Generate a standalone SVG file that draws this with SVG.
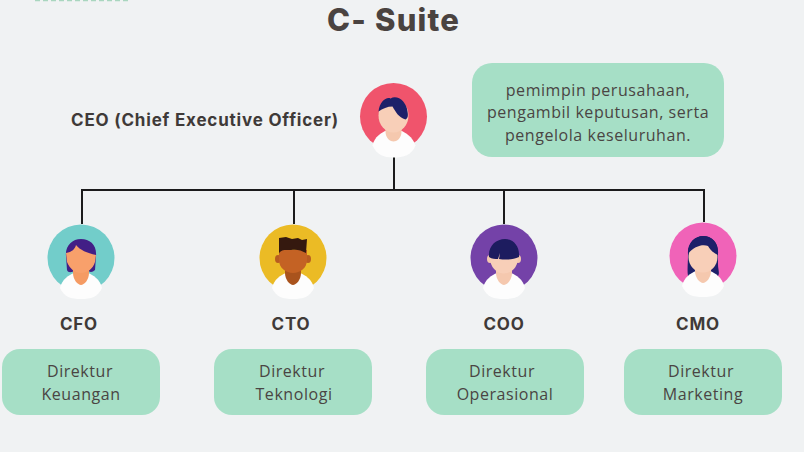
<svg xmlns="http://www.w3.org/2000/svg" width="804" height="452" viewBox="0 0 804 452">
<style>
.title{font:800 31px "Inter","Liberation Sans",sans-serif;fill:#4a4340;letter-spacing:1.2px}
.role{font:700 17px "Inter","Liberation Sans",sans-serif;fill:#3f3a38;text-anchor:middle;letter-spacing:.8px}
.body{font:400 16px "Open Sans","Liberation Sans",sans-serif;fill:#4a4543;text-anchor:middle;letter-spacing:.55px}
.box{fill:#a6dfc6}
.wire{stroke:#1b1b1b;stroke-width:2;fill:none}
.shirt{fill:#fdfdfd}
</style>
<rect width="804" height="452" fill="#f0f2f3"/>
<path d="M35 .5H130" stroke="#a9d6bf" stroke-width="1.500" stroke-dasharray="5 3" fill="none"/>
<text class="title" x="393.500" y="31" text-anchor="middle">C- Suite</text>

<g id="connectors">
<path class="wire" d="M394 157V190M81 190H705M82 190V224M294 190V224M504 190V224M704 190V222"/>
</g>

<g id="ceo" transform="translate(393.5 116.500)">
<circle r="33.500" fill="#f0546c"/>
<path class="shirt" d="M-21 29C-19 20-12 16-7 14H7C12 16 19 20 22 29C18 39 10 41 0 41S-17 38-21 29Z"/>
<path d="M-8 10H8V15C8 22 3 25 0 25S-8 22-8 15Z" fill="#f5c8ae"/>
<ellipse cy="-1" rx="15" ry="17" fill="#f8cfb8"/>
<path d="M-15-5C-14-15-7-20-3-18C4-22 13-15 14-5C15 0 14 2 12 3C5 1 2-5-1-10C-6-10-11-8-15-5Z" fill="#1d2069"/>
</g>
<text class="role" x="205" y="125.500">CEO (Chief Executive Officer)</text>
<g id="ceo-note">
<rect class="box" x="472" y="63" width="252" height="94" rx="20"/>
<text class="body" x="598" y="96">pemimpin perusahaan,</text>
<text class="body" x="598" y="118">pengambil keputusan, serta</text>
<text class="body" x="598" y="141">pengelola keseluruhan.</text>
</g>

<g id="cfo">
<g transform="translate(81 258)">
<circle r="33.500" fill="#72cdca"/>
<path d="M-15-2C-16-12-9-19 0-19C9-19 16-13 15-2L14 12C11 15 8 14 6 12H-6C-9 15-13 15-14 12Z" fill="#421f86"/>
<path class="shirt" d="M-21 30C-19 21-12 17-7 15H7C12 17 19 21 21 30C17 39 10 41 0 41S-17 39-21 30Z"/>
<path d="M-8 10H8V15C8 22 3 27 0 27S-8 22-8 15Z" fill="#f59b63"/>
<path d="M-15-5C-9-6-6-9-5-13C-1-8 6-5 15-3L14 4C12 11 6 15 0 15S-11 11-14 4Z" fill="#f8a06b"/>
</g>
<text class="role" x="79" y="330">CFO</text>
<rect class="box" x="2" y="349" width="158" height="66" rx="18"/>
<text class="body" x="80" y="377">Direktur</text>
<text class="body" x="81" y="400">Keuangan</text>
</g>

<g id="cto">
<g transform="translate(293 258)">
<circle r="33.500" fill="#ebbb25"/>
<path class="shirt" d="M-21 30C-19 21-12 17-7 15H7C12 17 19 21 21 30C17 39 10 41 0 41S-17 39-21 30Z"/>
<path d="M-8 10H8V15C8 22 3 27 0 27S-8 22-8 15Z" fill="#a9531d"/>
<ellipse cx="-15" cy="1" rx="3" ry="4" fill="#b85c20"/><ellipse cx="15" cy="1" rx="3" ry="4" fill="#b85c20"/>
<path d="M-14-8H14V2C14 10 7 15 0 15S-14 10-14 2Z" fill="#c46224"/>
<path d="M-14-5V-20L-7-21L-1-19L5-20L9-18L14-19L13-5C8-8 3-9-2-8C-7-8-11-9-14-5Z" fill="#35190f"/>
</g>
<text class="role" x="291" y="330">CTO</text>
<rect class="box" x="214" y="349" width="158" height="66" rx="18"/>
<text class="body" x="292" y="377">Direktur</text>
<text class="body" x="294" y="400">Teknologi</text>
</g>

<g id="coo">
<g transform="translate(504 258)">
<circle r="33.500" fill="#7442a8"/>
<path class="shirt" d="M-21 30C-19 21-12 17-7 15H7C12 17 19 21 21 30C17 39 10 41 0 41S-17 39-21 30Z"/>
<path d="M-8 10H8V15C8 22 3 27 0 27S-8 22-8 15Z" fill="#f5c8ae"/>
<ellipse cx="-14" cy="1" rx="3" ry="4" fill="#f5c8ae"/><ellipse cx="14" cy="1" rx="3" ry="4" fill="#f5c8ae"/>
<ellipse cy="0" rx="14" ry="15.500" fill="#f8cfb8"/>
<path d="M-15-1C-16-12-8-19 1-19C9-19 16-12 15-1C9 2 1 2-5 1L-4-5L-6 1C-9 1-12 1-15-1Z" fill="#1d1c5f"/>
</g>
<text class="role" x="504" y="330">COO</text>
<rect class="box" x="426" y="349" width="158" height="66" rx="18"/>
<text class="body" x="502" y="377">Direktur</text>
<text class="body" x="505" y="400">Operasional</text>
</g>

<g id="cmo">
<g transform="translate(703 256)">
<circle r="33.500" fill="#f063b8"/>
<path d="M-15-2C-16-13-8-20 0-20C9-20 16-13 15-2V8C15 14 17 17 15 20H6V10H-6V20L-15 20C-16 14-15 8-15-2Z" fill="#1d2069"/>
<path class="shirt" d="M-21 30C-19 21-12 17-7 15H7C12 17 19 21 21 30C17 39 10 41 0 41S-17 39-21 30Z"/>
<path d="M-8 10H8V15C8 22 3 27 0 27S-8 22-8 15Z" fill="#f5c8ae"/>
<ellipse cy="1" rx="14.500" ry="15.500" fill="#f8cfb8"/>
<path d="M-15-2C-15-14-7-20 0-20C9-20 16-13 15-1C11-3 8-5 5-10C0-12-9-10-15-2Z" fill="#1d2069"/>
</g>
<text class="role" x="698" y="330">CMO</text>
<rect class="box" x="624" y="349" width="158" height="66" rx="18"/>
<text class="body" x="701" y="377">Direktur</text>
<text class="body" x="703" y="400">Marketing</text>
</g>
</svg>
